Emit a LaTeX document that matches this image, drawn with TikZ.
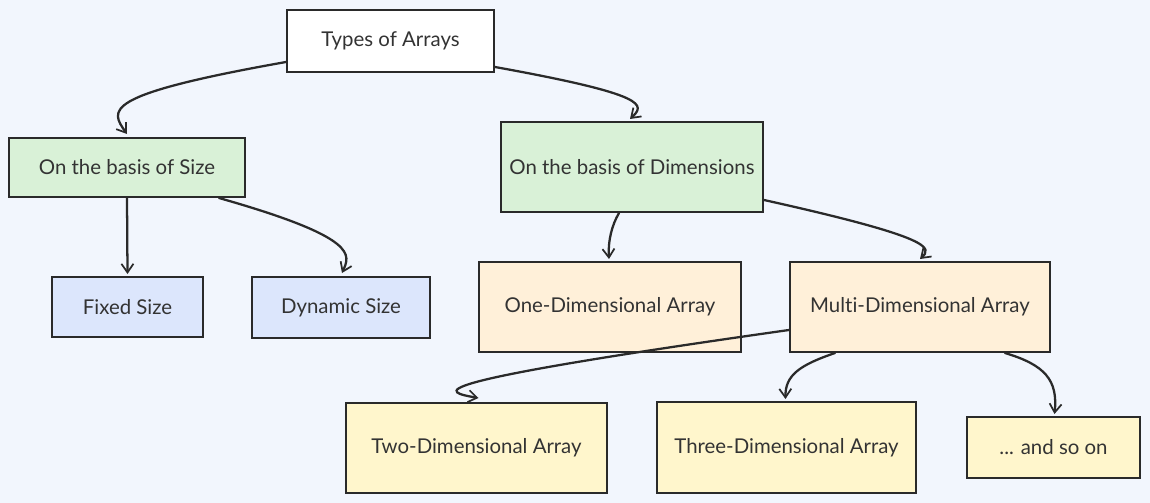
\documentclass[tikz,border=0pt]{standalone}
\usepackage{fontspec}
\setmainfont[Ligatures={NoCommon}]{Lato}
\usetikzlibrary{arrows.meta,calc}
\definecolor{bg}{HTML}{F2F6FD}
\definecolor{ink}{HTML}{2A2A2A}
\definecolor{txt}{HTML}{333333}
\definecolor{grn}{HTML}{D9F1D7}
\definecolor{blu}{HTML}{DCE6FC}
\definecolor{org}{HTML}{FFF0D9}
\definecolor{yel}{HTML}{FFF6CC}
\tikzset{
  box/.style={draw=ink, line width=1.5pt, inner sep=0pt, text=txt,
    font=\fontsize{15.3pt}{18pt}\selectfont},
  conn/.style={draw=ink, line width=1.7pt, line cap=round,
    -{Straight Barb[length=6.5pt,width=9pt,line width=1.3pt]}},
}
\begin{document}
\begin{tikzpicture}[x=0.75pt,y=-0.75pt]
\fill[bg] (0,0) rectangle (1150,503);
\useasboundingbox (0,0) rectangle (1150,503);
\node[box, fill=white, minimum width=155.25pt, minimum height=46.5pt] (types) at (390.5,41) {Types of Arrays};
\node[box, fill=grn, minimum width=177pt, minimum height=44.25pt] (size) at (127,167.5) {On the basis of Size};
\node[box, fill=grn, minimum width=196.5pt, minimum height=67.5pt] (dims) at (632,167) {On the basis of Dimensions};
\node[box, fill=blu, minimum width=113.25pt, minimum height=45pt] (fixed) at (127.5,307) {Fixed Size};
\node[box, fill=blu, minimum width=133.5pt, minimum height=45.75pt] (dyn) at (341,307.5) {Dynamic Size};
\node[box, fill=org, minimum width=196.5pt, minimum height=67.5pt] (one) at (610,307) {One-Dimensional Array};
\node[box, fill=org, minimum width=195pt, minimum height=67.5pt] (multi) at (920,307) {Multi-Dimensional Array};
\node[box, fill=yel, minimum width=195.75pt, minimum height=67.5pt] (two) at (476.5,448) {Two-Dimensional Array};
\node[box, fill=yel, minimum width=194.25pt, minimum height=68.25pt] (three) at (786.5,447.5) {Three-Dimensional Array};
\node[box, fill=yel, minimum width=129.75pt, minimum height=45.75pt] (andso) at (1053.5,447.5) {... and so on};

\draw[conn] ($(types.west)+(0,21)$) .. controls (100,95) and (110,110) .. ($(size.north)+(0,-3)$);
\draw[conn] ($(types.east)+(0,26)$) .. controls (650,95) and (645,105) .. ($(dims.north)+(-2,-2)$);
\draw[conn] (size.south) -- ($(fixed.north)+(0,-2)$);
\draw[conn] ($(size.south east)+(-27,0)$) .. controls (360,238) and (350,255) .. ($(dyn.north)+(1,-3)$);
\draw[conn] ($(dims.south)+(-13,0)$) .. controls (612,225) and (608,240) .. ($(one.north)+(-1,-2)$);
\draw[conn] ($(dims.east)+(0,33)$) .. controls (935,238) and (932,248) .. ($(multi.north)+(0,-2)$);
\draw[conn] ($(multi.west)+(0,23)$) .. controls (400,385) and (445,392) .. ($(two.north)+(2,-4)$);
\draw[conn] ($(multi.south)+(-85,0)$) .. controls (800,365) and (785,375) .. ($(three.north)+(-1,-2)$);
\draw[conn] ($(multi.south)+(85,0)$) .. controls (1045,365) and (1058,380) .. ($(andso.north)+(1,-2)$);
\end{tikzpicture}
\end{document}
